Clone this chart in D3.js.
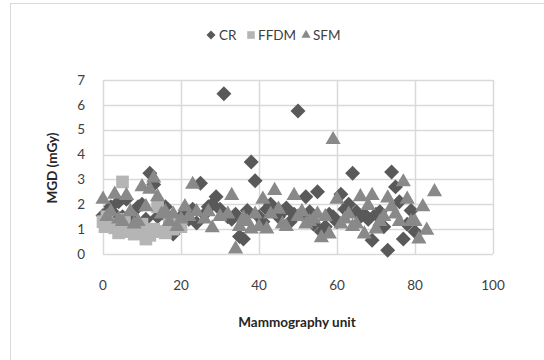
<!DOCTYPE html>
<html>
<head>
<meta charset="utf-8">
<script src="https://cdn.jsdelivr.net/npm/d3@7"></script>
<style>
  body { margin: 0; background: #fff; }
  svg { display: block; font-family: Lato, "Open Sans", sans-serif; }
</style>
</head>
<body>
<div id="chart"></div>
<script>
const W = 544, H = 360;

// [mammography unit, MGD (mGy)]
const crData = [
  [0,1.55],[1,1.65],[2,1.9],[3,1.6],[4,2.1],[5,1.5],[6,2.2],[7,1.6],[8,1.3],[9,1.9],
  [10,2.0],[11,1.4],[12,3.25],[13,2.8],[14,1.5],[15,1.8],[16,1.9],[17,1.4],[18,0.8],[19,1.2],
  [20,1.5],[21,1.6],[22,1.4],[23,1.8],[24,1.25],[25,2.85],[26,1.6],[27,1.9],[28,2.0],[29,2.3],
  [30,1.8],[31,6.45],[32,1.5],[33,1.4],[34,1.6],[35,0.7],[36,0.6],[37,1.75],[38,3.7],[39,2.95],
  [40,1.5],[41,1.3],[42,1.8],[43,2.0],[44,1.7],[45,1.5],[46,1.7],[47,1.85],[48,1.3],[49,1.6],
  [50,5.75],[51,1.6],[52,2.3],[53,1.7],[54,1.2],[55,2.5],[56,0.9],[57,1.1],[58,1.6],[59,1.5],
  [60,1.3],[61,2.4],[62,1.8],[63,2.0],[64,3.25],[65,1.7],[66,1.5],[67,1.6],[68,1.4],[69,0.55],
  [70,1.6],[71,1.7],[72,1.1],[73,0.15],[74,3.3],[75,2.7],[76,2.1],[77,0.6],[78,1.2],[79,1.75],[80,0.9]
];
const ffdmData = [
  [0,1.3],[0.5,1.1],[1,1.5],[2,1.2],[3,1.05],[4,0.85],[5,2.9],[5.5,1.4],[6,0.9],[7,1.0],
  [8,0.8],[9,1.1],[10,1.2],[11,0.6],[12,0.75],[13,1.0],[14,1.9],[15,0.9],[16,0.85],[17,1.2],
  [18,1.0],[19,1.3],[20,1.1]
];
const sfmData = [
  [0,2.2],[1,1.5],[2,1.7],[3,2.4],[4,1.4],[5,1.3],[6,2.35],[7,1.7],[8,1.2],[9,1.3],
  [10,2.7],[11,1.9],[12,2.6],[13,3.05],[14,2.3],[15,1.6],[16,1.7],[17,1.3],[18,1.6],[19,1.1],
  [20,1.4],[21,1.9],[22,1.5],[23,2.8],[24,1.7],[26,1.4],[27,1.7],[28,1.05],[30,1.5],[32,1.6],
  [33,2.35],[34,0.2],[35,1.1],[36,1.45],[37,1.3],[38,1.0],[39,1.6],[40,1.1],[41,2.2],[42,1.0],
  [43,1.6],[44,2.55],[45,1.8],[46,1.2],[47,1.1],[49,2.35],[50,1.5],[51,1.7],[52,1.2],[53,1.3],
  [54,1.4],[55,1.6],[56,0.65],[57,1.5],[58,0.8],[59,4.6],[60,2.2],[61,1.2],[62,1.4],[63,1.6],
  [64,1.1],[65,1.2],[66,2.3],[67,0.8],[68,1.95],[69,2.35],[70,1.0],[71,1.3],[72,1.5],[73,2.25],
  [74,1.9],[75,1.6],[76,1.3],[77,2.9],[78,2.2],[79,1.3],[80,1.3],[81,0.6],[82,1.9],[83,0.95],[85,2.5]
];

const xTicks = [0, 20, 40, 60, 80, 100];
const yTicks = [0, 1, 2, 3, 4, 5, 6, 7];

const series = [
  {name: "CR", data: crData, color: "#595959", shape: "diamond"},
  {name: "FFDM", data: ffdmData, color: "#b5b5b5", shape: "square"},
  {name: "SFM", data: sfmData, color: "#898989", shape: "triangle"},
];

const margin = {left: 103, right: 51, top: 80, bottom: 106};
const x = d3.scaleLinear().domain([0, 100]).range([margin.left, W - margin.right]);
const y = d3.scaleLinear().domain([0, 7]).range([H - margin.bottom, margin.top]);

function symbolPath(shape, scale = 1) {
  if (shape === "diamond") return d3.symbol(d3.symbolSquare, 112 * scale * scale)();
  if (shape === "square") return d3.symbol(d3.symbolSquare, 160 * scale * scale)();
  return d3.symbol(d3.symbolTriangle, 100 * scale * scale)();
}

const svg = d3.select("#chart").append("svg")
  .attr("width", W).attr("height", H);

svg.append("rect")
  .attr("x", 10.5).attr("y", 3.5)
  .attr("width", W + 20).attr("height", H + 20)
  .attr("fill", "#fff").attr("stroke", "#d9d9d9");

// gridlines
svg.append("g").selectAll("line").data(yTicks).join("line")
  .attr("x1", x(0)).attr("x2", x(100))
  .attr("y1", d => Math.round(y(d)) + 0.5).attr("y2", d => Math.round(y(d)) + 0.5)
  .attr("stroke", "#d9d9d9").attr("stroke-width", 1.5);
svg.append("g").selectAll("line").data(xTicks).join("line")
  .attr("x1", d => Math.round(x(d)) + 0.5).attr("x2", d => Math.round(x(d)) + 0.5)
  .attr("y1", y(0)).attr("y2", y(7))
  .attr("stroke", "#d9d9d9").attr("stroke-width", 1.5);

// tick labels
svg.append("g").selectAll("text").data(yTicks).join("text")
  .attr("x", 85).attr("y", d => y(d)).attr("dy", "0.35em")
  .attr("text-anchor", "end").attr("font-size", 13.5).attr("fill", "#404040")
  .text(d => d);
svg.append("g").selectAll("text").data(xTicks).join("text")
  .attr("x", d => x(d)).attr("y", 290)
  .attr("text-anchor", "middle").attr("font-size", 13.5).attr("fill", "#404040")
  .text(d => d);

// axis titles
svg.append("text")
  .attr("x", 297).attr("y", 327)
  .attr("text-anchor", "middle").attr("font-size", 13.5).attr("font-weight", "bold")
  .attr("fill", "#262626").text("Mammography unit");
svg.append("text")
  .attr("transform", `translate(57,${(y(0) + y(7)) / 2 + 1}) rotate(-90)`)
  .attr("text-anchor", "middle").attr("font-size", 13.5).attr("font-weight", "bold")
  .attr("fill", "#262626").text("MGD (mGy)");

// points
for (const s of series) {
  svg.append("g").selectAll("path").data(s.data).join("path")
    .attr("d", symbolPath(s.shape))
    .attr("fill", s.color)
    .attr("transform", d => `translate(${x(d[0])},${y(d[1])})${s.shape === "diamond" ? " rotate(45)" : ""}`);
}

// legend
const legendItems = [
  {sx: 211, tx: 219},
  {sx: 251, tx: 258},
  {sx: 306, tx: 313},
];
series.forEach((s, i) => {
  const it = legendItems[i];
  svg.append("path")
    .attr("d", symbolPath(s.shape, 0.6))
    .attr("fill", s.color)
    .attr("transform", `translate(${it.sx},35)${s.shape === "diamond" ? " rotate(45)" : ""}`);
  svg.append("text")
    .attr("x", it.tx).attr("y", 35).attr("dy", "0.35em")
    .attr("font-size", 13.5).attr("fill", "#404040")
    .text(s.name);
});
</script>
</body>
</html>
